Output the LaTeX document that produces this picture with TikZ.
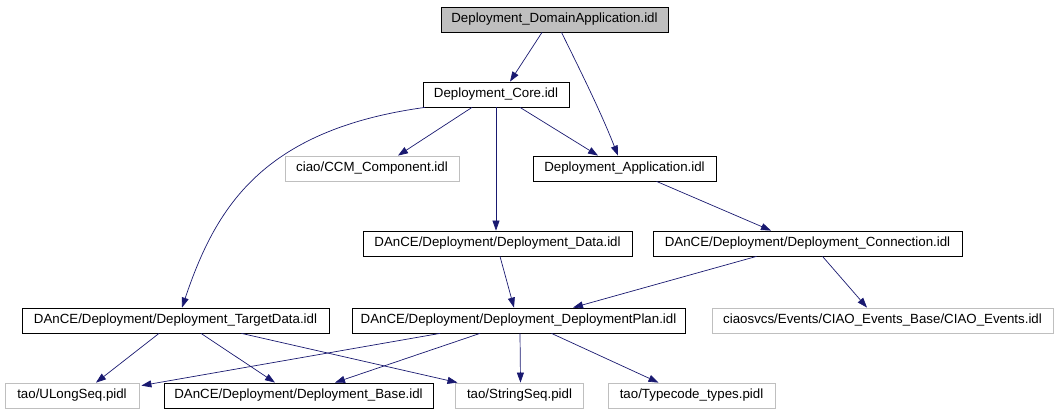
\documentclass[tikz,border=0pt]{standalone}
\usepackage{fontspec}
\setmainfont{Liberation Sans}
\usetikzlibrary{
  arrows,
  arrows.meta,
  positioning
}
\definecolor{edgeblue}{HTML}{191970}
\definecolor{boxgray}{HTML}{BFBFBF}

\begin{document}
\begin{tikzpicture}[x = 1pt, y = -1pt,
    file/.style = {draw, line width = 0.8pt, minimum height = 25pt, inner sep = 0pt,
                   font = \fontsize{13.3}{15}\selectfont},
    extfile/.style = {file, draw = boxgray},
    rootfile/.style = {file, fill = boxgray},
    dep/.style = {edgeblue, line width = 0.7pt, -{Triangle[length = 10pt, width = 7pt]}}]
    \useasboundingbox (0,0) rectangle (1056,411);

    \node[rootfile, minimum width = 227pt] (dom) at (554.5,19.5) {Deployment\_DomainApplication.idl};
    \node[file, minimum width = 146pt] (core) at (496,94.5) {Deployment\_Core.idl};
    \node[extfile, minimum width = 174pt] (ccm) at (372,168.5) {ciao/CCM\_Component.idl};
    \node[file, minimum width = 183pt] (app) at (624.5,168.5) {Deployment\_Application.idl};
    \node[file, minimum width = 269pt] (data) at (497.5,243.5) {DAnCE/Deployment/Deployment\_Data.idl};
    \node[file, minimum width = 309pt] (conn) at (807.5,243.5) {DAnCE/Deployment/Deployment\_Connection.idl};
    \node[file, minimum width = 307pt] (target) at (175.5,320.5) {DAnCE/Deployment/Deployment\_TargetData.idl};
    \node[file, minimum width = 333pt] (plan) at (518.5,320.5) {DAnCE/Deployment/Deployment\_DeploymentPlan.idl};
    \node[extfile, minimum width = 341pt] (events) at (882.5,320.5) {ciaosvcs/Events/CIAO\_Events\_Base/CIAO\_Events.idl};
    \node[extfile, minimum width = 134pt] (ulong) at (72,395.5) {tao/ULongSeq.pidl};
    \node[file, minimum width = 269pt] (base) at (298.5,395.5) {DAnCE/Deployment/Deployment\_Base.idl};
    \node[extfile, minimum width = 128pt] (strseq) at (519.5,395.5) {tao/StringSeq.pidl};
    \node[extfile, minimum width = 167pt] (tcode) at (691.5,395.5) {tao/Typecode\_types.pidl};

    % includes of the top file
    \draw[dep] ([xshift = -12.5pt]dom.south) -- ([xshift = 14pt]core.north);
    \draw[dep] ([xshift = 7pt]dom.south) .. controls (580,70) and (600,110) .. ([xshift = -6.5pt]app.north);

    % includes of Deployment_Core.idl
    \draw[dep] ([xshift = -71pt]core.south) .. controls (260,130) and (215,210) .. ([xshift = 6.5pt]target.north);
    \draw[dep] ([xshift = -24pt]core.south) -- ([xshift = 26pt]ccm.north);
    \draw[dep] (core.south) -- ([xshift = -1.5pt]data.north);
    \draw[dep] ([xshift = 24pt]core.south) -- ([xshift = -26.5pt]app.north);

    \draw[dep] ([xshift = 32pt]app.south) -- ([xshift = -36.5pt]conn.north);
    \draw[dep] ([xshift = 2.5pt]data.south) -- ([xshift = -4.5pt]plan.north);
    \draw[dep] ([xshift = -51pt]conn.south) -- ([xshift = 54.5pt]plan.north);
    \draw[dep] ([xshift = 15pt]conn.south) -- ([xshift = -15.5pt]events.north);

    % bottom row
    \draw[dep] ([xshift = -16.5pt]target.south) -- ([xshift = 24pt]ulong.north);
    \draw[dep] ([xshift = 25.5pt]target.south) -- ([xshift = -23.5pt]base.north);
    \draw[dep] ([xshift = 66pt]target.south) -- ([xshift = -62pt]strseq.north);
    \draw[dep] ([xshift = -78.5pt]plan.south) -- ([xshift = 2pt, yshift = -3pt]ulong.north east);
    \draw[dep] ([xshift = -38.5pt]plan.south) -- ([xshift = 36.5pt]base.north);
    \draw[dep] ([xshift = 1.5pt]plan.south) -- ([xshift = 1pt]strseq.north);
    \draw[dep] ([xshift = 33pt]plan.south) -- ([xshift = -33pt]tcode.north);
\end{tikzpicture}
\end{document}
